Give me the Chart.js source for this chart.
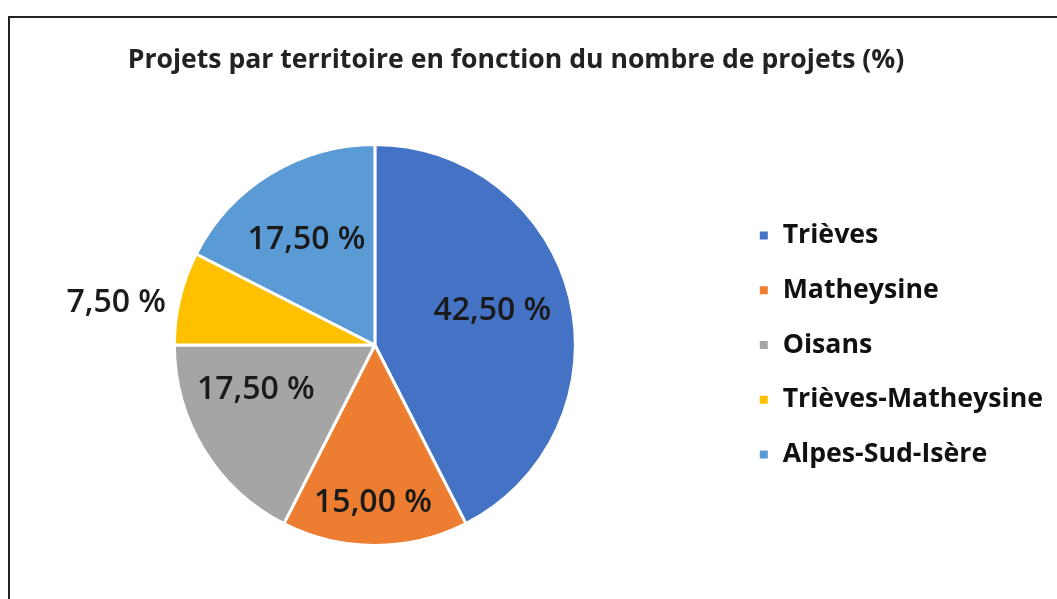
<!DOCTYPE html>
<html>
<head>
<meta charset="utf-8">
<script src="https://cdn.jsdelivr.net/npm/chart.js"></script>
<style>
  html, body { margin: 0; padding: 0; background: #fff; }
  #wrap { position: relative; width: 1057px; height: 599px; overflow: hidden; }
  #frame { position: absolute; left: 8px; top: 16px; width: 1100px; height: 700px;
           border-left: 2px solid #222; border-top: 2px solid #222; }
</style>
</head>
<body>
<div id="wrap">
  <div id="frame"></div>
  <canvas id="projetsChart" width="1057" height="599" style="position:absolute;left:0;top:0"></canvas>
</div>
<script>
// données
const territoires = ['Trièves', 'Matheysine', 'Oisans', 'Trièves-Matheysine', 'Alpes-Sud-Isère'];
const partProjets = [42.5, 15, 17.5, 7.5, 17.5];
const couleurs = ['#4472C4', '#ED7D31', '#A5A5A5', '#FFC000', '#5B9BD5'];
const titre = 'Projets par territoire en fonction du nombre de projets (%)';

// placement des étiquettes : fraction du rayon et décalage d'angle (degrés)
const rayonEtiquettes = [0.614, 0.775, 0.63, 1.31, 0.64];
const decalEtiquettes = [-4, 0.7, 12, -3.6, -0.7];

const formatPct = v => v.toFixed(2).replace('.', ',') + ' %';

const etiquettes = {
    id: 'etiquettes',
    afterDatasetsDraw(chart) {
        const c = chart.ctx;
        const arcs = chart.getDatasetMeta(0).data;
        c.save();
        c.font = '600 32px "Open Sans"';
        c.fillStyle = '#1a1a1a';
        c.textAlign = 'center';
        c.textBaseline = 'middle';
        arcs.forEach((arc, i) => {
            const mid = (arc.startAngle + arc.endAngle) / 2 + decalEtiquettes[i] * Math.PI / 180;
            const r = arc.outerRadius * rayonEtiquettes[i];
            c.fillText(formatPct(partProjets[i]), arc.x + Math.cos(mid) * r, arc.y + Math.sin(mid) * r + 3);
        });
        // titre
        c.font = 'bold 26.6px "Open Sans"';
        c.fillStyle = '#222';
        c.textBaseline = 'alphabetic';
        c.fillText(titre, 516, 68);
        c.restore();
    }
};

const ctx = document.getElementById('projetsChart').getContext('2d');
new Chart(ctx, {
    type: 'pie',
    data: {
        labels: territoires,
        datasets: [{
            data: partProjets,
            backgroundColor: couleurs,
            borderColor: '#fff',
            borderWidth: 3
        }]
    },
    options: {
        responsive: false,
        animation: false,
        layout: {
            padding: { left: 19.5, right: 4, top: 143, bottom: 52 }
        },
        plugins: {
            legend: {
                position: 'right',
                labels: {
                    boxWidth: 11,
                    boxHeight: 11,
                    padding: 28,
                    color: '#111',
                    font: { family: 'Open Sans', size: 26.7, weight: 'bold' }
                }
            },
            tooltip: { enabled: false }
        }
    },
    plugins: [etiquettes]
});
</script>
</body>
</html>
